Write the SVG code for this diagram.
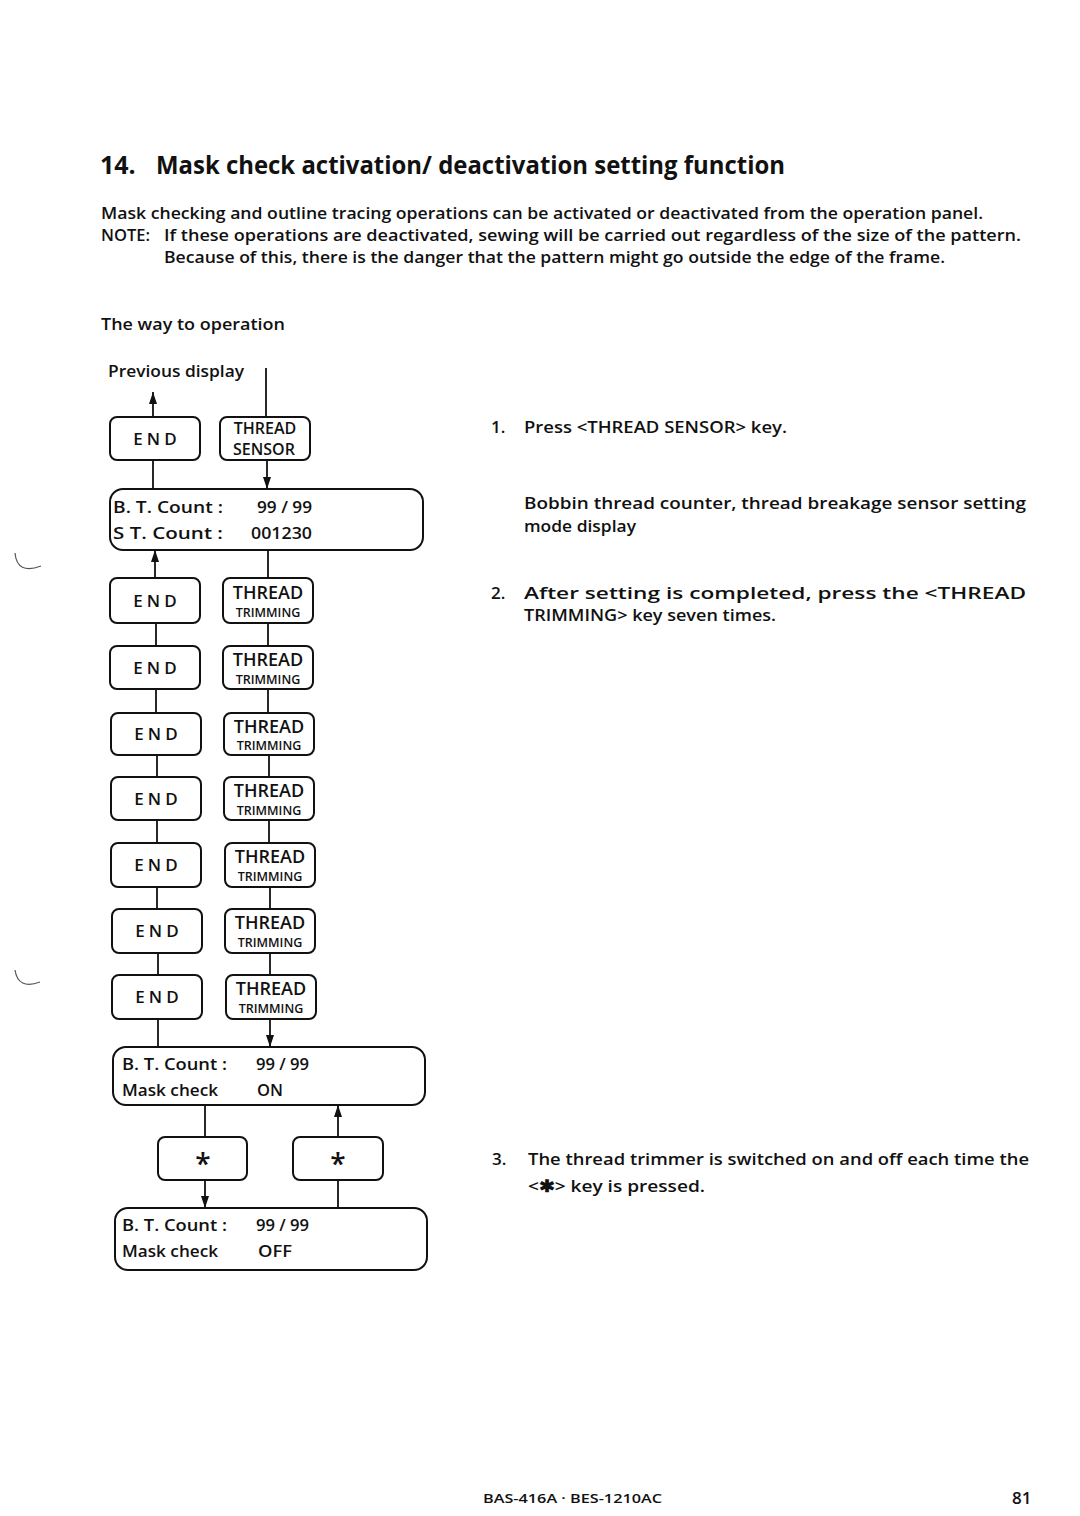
<svg xmlns="http://www.w3.org/2000/svg" width="1080" height="1516" viewBox="0 0 1080 1516">
<defs>
<style>
text{font-family:"Open Sans","Liberation Sans",sans-serif;fill:#111;}
.t{font-size:17px;font-weight:600;}
.title{font-size:25px;font-weight:700;}
.key{fill:#fff;stroke:#111;stroke-width:2;}
.disp{fill:#fff;stroke:#111;stroke-width:2;}
.k1{font-size:17px;font-weight:600;letter-spacing:4px;text-anchor:middle;}
.k2{font-size:18px;font-weight:600;text-anchor:middle;}
.ks{font-size:16px;font-weight:600;text-anchor:middle;}
.k3{font-size:12.5px;font-weight:600;text-anchor:middle;}
.d{font-size:17px;font-weight:600;}
.star{font-size:28px;font-weight:600;text-anchor:middle;}
.ln{stroke:#111;stroke-width:1.8;fill:none;}
.arr{stroke:#111;stroke-width:1.8;fill:none;marker-end:url(#ah);}
.foot{font-size:12px;font-weight:600;}
</style>
<marker id="ah" viewBox="0 0 12 8" refX="12" refY="4" markerWidth="12" markerHeight="8" markerUnits="userSpaceOnUse" orient="auto">
<path d="M0,0 L12,4 L0,8 z" fill="#111"/>
</marker>
</defs>
<rect width="1080" height="1516" fill="#fff"/>

<text class="title" x="100" y="174">14.</text>
<text class="title" x="156" y="174" textLength="629" lengthAdjust="spacingAndGlyphs">Mask check activation/ deactivation setting function</text>

<text class="t" x="101" y="219" textLength="882" lengthAdjust="spacingAndGlyphs">Mask checking and outline tracing operations can be activated or deactivated from the operation panel.</text>
<text class="t" x="101" y="241" textLength="49" lengthAdjust="spacingAndGlyphs">NOTE:</text>
<text class="t" x="164" y="241" textLength="857" lengthAdjust="spacingAndGlyphs">If these operations are deactivated, sewing will be carried out regardless of the size of the pattern.</text>
<text class="t" x="164" y="263" textLength="781" lengthAdjust="spacingAndGlyphs">Because of this, there is the danger that the pattern might go outside the edge of the frame.</text>

<text class="t" x="101" y="330" textLength="184" lengthAdjust="spacingAndGlyphs">The way to operation</text>
<text class="t" x="108" y="377" textLength="136" lengthAdjust="spacingAndGlyphs">Previous display</text>

<text class="t" x="491" y="433">1.</text>
<text class="t" x="524" y="433" textLength="263" lengthAdjust="spacingAndGlyphs">Press &lt;THREAD SENSOR&gt; key.</text>
<text class="t" x="524" y="509" textLength="502" lengthAdjust="spacingAndGlyphs">Bobbin thread counter, thread breakage sensor setting</text>
<text class="t" x="524" y="532" textLength="112" lengthAdjust="spacingAndGlyphs">mode display</text>
<text class="t" x="491" y="599">2.</text>
<text class="t" x="524" y="599" textLength="502" lengthAdjust="spacingAndGlyphs">After setting is completed, press the &lt;THREAD</text>
<text class="t" x="524" y="621" textLength="252" lengthAdjust="spacingAndGlyphs">TRIMMING&gt; key seven times.</text>
<text class="t" x="492" y="1165">3.</text>
<text class="t" x="528" y="1165" textLength="501" lengthAdjust="spacingAndGlyphs">The thread trimmer is switched on and off each time the</text>
<text class="t" x="528" y="1192" textLength="177" lengthAdjust="spacingAndGlyphs">&lt;✱&gt; key is pressed.</text>

<text class="foot" x="483" y="1503" textLength="179" lengthAdjust="spacingAndGlyphs">BAS-416A · BES-1210AC</text>
<text class="t" x="1012" y="1504">81</text>

<path d="M15,553 Q17,575 41,566" stroke="#555" stroke-width="1.2" fill="none"/>
<path d="M15,970 Q18,990 40,982" stroke="#555" stroke-width="1.2" fill="none"/>

<g id="connectors">
<line class="arr" x1="153" y1="417" x2="153" y2="392"/>
<line class="ln" x1="266" y1="368" x2="266" y2="417"/>
<line class="arr" x1="267" y1="460" x2="267" y2="489"/>
<line class="ln" x1="153" y1="460" x2="153" y2="489"/>
<line class="arr" x1="155" y1="578" x2="155" y2="550"/>
<line class="ln" x1="268" y1="550" x2="268" y2="578"/>
<line class="ln" x1="156" y1="623" x2="156" y2="646"/>
<line class="ln" x1="268" y1="623" x2="268" y2="646"/>
<line class="ln" x1="156" y1="689" x2="156" y2="713"/>
<line class="ln" x1="268" y1="689" x2="268" y2="713"/>
<line class="ln" x1="157" y1="755" x2="157" y2="777"/>
<line class="ln" x1="269" y1="755" x2="269" y2="777"/>
<line class="ln" x1="157" y1="820" x2="157" y2="843"/>
<line class="ln" x1="269" y1="820" x2="269" y2="843"/>
<line class="ln" x1="157" y1="887" x2="157" y2="909"/>
<line class="ln" x1="270" y1="887" x2="270" y2="909"/>
<line class="ln" x1="158" y1="953" x2="158" y2="975"/>
<line class="ln" x1="270" y1="953" x2="270" y2="975"/>
<line class="ln" x1="158" y1="1019" x2="158" y2="1047"/>
<line class="arr" x1="270" y1="1019" x2="270" y2="1047"/>
<line class="ln" x1="205" y1="1105" x2="205" y2="1137"/>
<line class="arr" x1="205" y1="1180" x2="205" y2="1208"/>
<line class="ln" x1="338" y1="1208" x2="338" y2="1180"/>
<line class="arr" x1="338" y1="1137" x2="338" y2="1105"/>
</g>

<g id="end1"><rect class="key" x="110" y="417" width="90" height="43" rx="7"/><text class="k1" x="157" y="445">END</text></g>
<g id="sensor"><rect class="key" x="220" y="417" width="90" height="43" rx="7"/><text class="ks" x="265" y="434">THREAD</text><text class="ks" x="264" y="455">SENSOR</text></g>

<g id="display1"><rect class="disp" x="110" y="489" width="313" height="61" rx="13"/>
<text class="d" x="113" y="513" textLength="110" lengthAdjust="spacingAndGlyphs">B. T.  Count :</text>
<text class="d" x="257" y="513" textLength="55" lengthAdjust="spacingAndGlyphs">99 / 99</text>
<text class="d" x="113" y="539" textLength="110" lengthAdjust="spacingAndGlyphs">S T.   Count :</text>
<text class="d" x="251" y="539" textLength="61" lengthAdjust="spacingAndGlyphs">001230</text></g>

<g id="end2"><rect class="key" x="110" y="578" width="90" height="45" rx="7"/><text class="k1" x="157" y="607">END</text></g>
<g id="trim2"><rect class="key" x="223" y="578" width="90" height="45" rx="7"/><text class="k2" x="268" y="599">THREAD</text><text class="k3" x="268" y="617">TRIMMING</text></g>
<g id="end3"><rect class="key" x="110" y="646" width="90" height="43" rx="7"/><text class="k1" x="157" y="674">END</text></g>
<g id="trim3"><rect class="key" x="223" y="646" width="90" height="43" rx="7"/><text class="k2" x="268" y="666">THREAD</text><text class="k3" x="268" y="684">TRIMMING</text></g>
<g id="end4"><rect class="key" x="111" y="713" width="90" height="42" rx="7"/><text class="k1" x="158" y="740">END</text></g>
<g id="trim4"><rect class="key" x="224" y="713" width="90" height="42" rx="7"/><text class="k2" x="269" y="733">THREAD</text><text class="k3" x="269" y="750">TRIMMING</text></g>
<g id="end5"><rect class="key" x="111" y="777" width="90" height="43" rx="7"/><text class="k1" x="158" y="805">END</text></g>
<g id="trim5"><rect class="key" x="224" y="777" width="90" height="43" rx="7"/><text class="k2" x="269" y="797">THREAD</text><text class="k3" x="269" y="815">TRIMMING</text></g>
<g id="end6"><rect class="key" x="111" y="843" width="90" height="44" rx="7"/><text class="k1" x="158" y="871">END</text></g>
<g id="trim6"><rect class="key" x="225" y="843" width="90" height="44" rx="7"/><text class="k2" x="270" y="863">THREAD</text><text class="k3" x="270" y="881">TRIMMING</text></g>
<g id="end7"><rect class="key" x="112" y="909" width="90" height="44" rx="7"/><text class="k1" x="159" y="937">END</text></g>
<g id="trim7"><rect class="key" x="225" y="909" width="90" height="44" rx="7"/><text class="k2" x="270" y="929">THREAD</text><text class="k3" x="270" y="947">TRIMMING</text></g>
<g id="end8"><rect class="key" x="112" y="975" width="90" height="44" rx="7"/><text class="k1" x="159" y="1003">END</text></g>
<g id="trim8"><rect class="key" x="226" y="975" width="90" height="44" rx="7"/><text class="k2" x="271" y="995">THREAD</text><text class="k3" x="271" y="1013">TRIMMING</text></g>

<g id="display-on"><rect class="disp" x="113" y="1047" width="312" height="58" rx="13"/>
<text class="d" x="122" y="1070" textLength="105" lengthAdjust="spacingAndGlyphs">B. T.  Count :</text>
<text class="d" x="256" y="1070" textLength="53" lengthAdjust="spacingAndGlyphs">99 / 99</text>
<text class="d" x="122" y="1096" textLength="96" lengthAdjust="spacingAndGlyphs">Mask check</text>
<text class="d" x="257" y="1096" textLength="26" lengthAdjust="spacingAndGlyphs">ON</text></g>

<g id="star-left"><rect class="key" x="158" y="1137" width="89" height="43" rx="7"/><text class="star" x="203" y="1174">*</text></g>
<g id="star-right"><rect class="key" x="293" y="1137" width="90" height="43" rx="7"/><text class="star" x="338" y="1174">*</text></g>

<g id="display-off"><rect class="disp" x="115" y="1208" width="312" height="62" rx="13"/>
<text class="d" x="122" y="1231" textLength="105" lengthAdjust="spacingAndGlyphs">B. T.  Count :</text>
<text class="d" x="256" y="1231" textLength="53" lengthAdjust="spacingAndGlyphs">99 / 99</text>
<text class="d" x="122" y="1257" textLength="96" lengthAdjust="spacingAndGlyphs">Mask check</text>
<text class="d" x="258" y="1257" textLength="34" lengthAdjust="spacingAndGlyphs">OFF</text></g>
</svg>
